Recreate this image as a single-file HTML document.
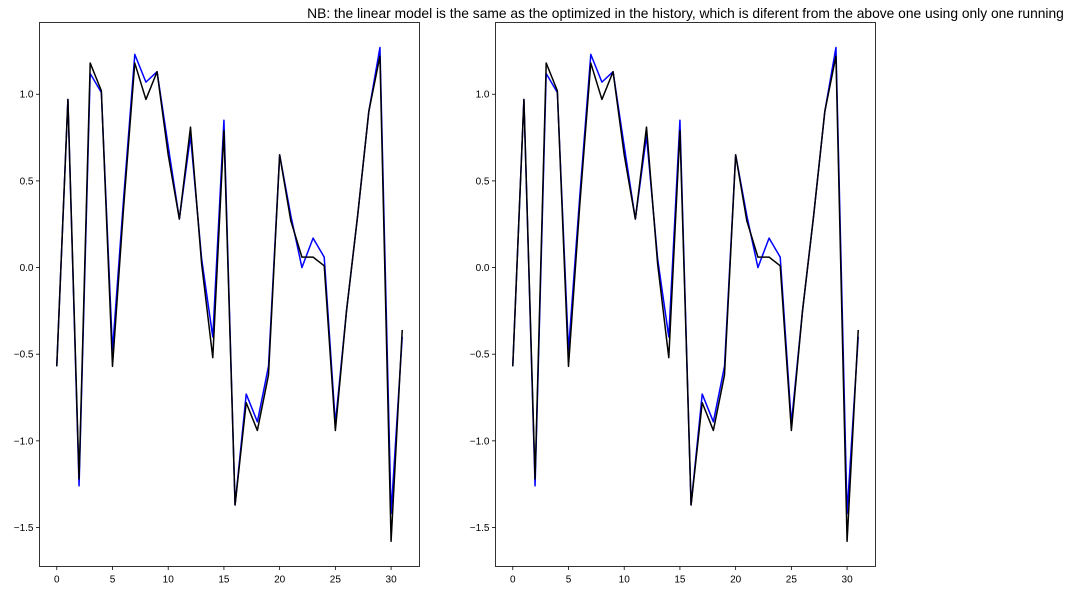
<!DOCTYPE html>
<html><head><meta charset="utf-8"><style>
html,body{margin:0;padding:0;background:#fff;}
svg{display:block;font-family:"Liberation Sans","DejaVu Sans",sans-serif;}
</style></head><body>
<svg id="chart" width="1071" height="590" viewBox="0 0 1071 590" xmlns="http://www.w3.org/2000/svg">
<rect width="1071" height="590" fill="#fff"/>
<text x="685.5" y="18" text-anchor="middle" font-size="13.8" fill="#000">NB: the linear model is the same as the optimized in the history, which is diferent from the above one using only one running</text>
</svg>
<script>
const xTicks = [0, 5, 10, 15, 20, 25, 30];
const yTicks = [-1.5, -1.0, -0.5, 0.0, 0.5, 1.0];
const yTickLabels = ["−1.5", "−1.0", "−0.5", "0.0", "0.5", "1.0"];
const blueSeries = [-0.57, 0.97, -1.26, 1.12, 1.01, -0.48, 0.40, 1.23, 1.07, 1.13, 0.70, 0.28, 0.76, 0.05, -0.40, 0.85, -1.37, -0.73, -0.89, -0.57, 0.65, 0.30, 0.00, 0.17, 0.06, -0.90, -0.25, 0.30, 0.90, 1.27, -1.42, -0.40];
const blackSeries = [-0.57, 0.97, -1.22, 1.18, 1.02, -0.57, 0.35, 1.18, 0.97, 1.13, 0.65, 0.28, 0.81, 0.02, -0.52, 0.79, -1.37, -0.78, -0.94, -0.62, 0.65, 0.27, 0.06, 0.06, 0.01, -0.94, -0.25, 0.30, 0.90, 1.22, -1.58, -0.36];

const NS = "http://www.w3.org/2000/svg";
const svgEl = document.getElementById('chart');
function mk(tag, attrs, parent){const e=document.createElementNS(NS,tag);for(const k in attrs)e.setAttribute(k,attrs[k]);(parent||svgEl).appendChild(e);return e;}

const panels = [{left:39.5, name:'left'},{left:495.5, name:'right'}];
const plotW = 380, plotTop = 22.5, plotH = 544;
const xMin = -1.55, xMax = 32.55, yMin = -1.725, yMax = 1.414;

panels.forEach(p=>{
  const g = mk('g',{});
  
  
  const xs = v => p.left + (v - xMin)/(xMax - xMin)*plotW;
  const ys = v => plotTop + (yMax - v)/(yMax - yMin)*plotH;
  function line(series, color, nm){
    const pts = series.map((v,i)=>xs(i).toFixed(2)+','+ys(v).toFixed(2)).join(' ');
    const pl = mk('polyline',{points:pts,fill:'none',stroke:color,'stroke-width':1.5,'stroke-linejoin':'round'},g);
    
    
  }
  line(blueSeries,'#0000ff',p.name+'-blue-line');
  line(blackSeries,'#000000',p.name+'-black-line');
  const fr = mk('rect',{x:p.left,y:plotTop,width:plotW,height:plotH,fill:'none',stroke:'#000','stroke-width':0.8},g);
  
  
  xTicks.forEach(t=>{
    const x = xs(t);
    mk('line',{x1:x,x2:x,y1:plotTop+plotH,y2:plotTop+plotH+3.5,stroke:'#000','stroke-width':0.8},g);
    const tx = mk('text',{x:x,y:plotTop+plotH+16,'text-anchor':'middle','font-size':10,fill:'#000'},g);
    tx.textContent = String(t);
    
    
  });
  yTicks.forEach((t,i)=>{
    const y = ys(t);
    mk('line',{x1:p.left-3.5,x2:p.left,y1:y,y2:y,stroke:'#000','stroke-width':0.8},g);
    const tx = mk('text',{x:p.left-6,y:y+3.5,'text-anchor':'end','font-size':10,fill:'#000'},g);
    tx.textContent = yTickLabels[i];
    
    
  });
});
</script>
</body></html>
